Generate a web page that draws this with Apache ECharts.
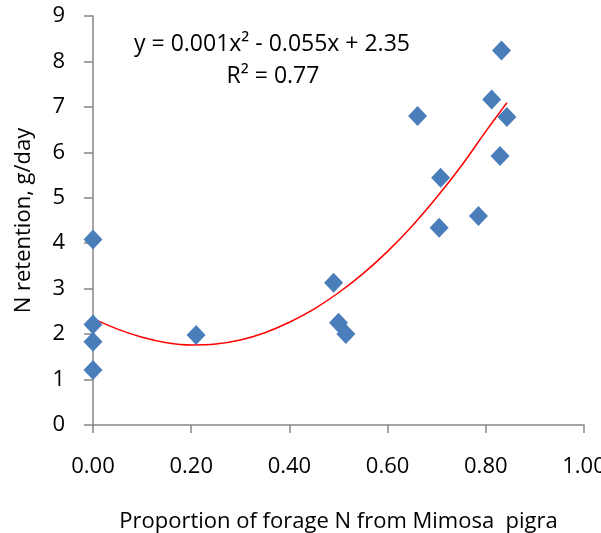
<!DOCTYPE html>
<html>
<head>
<meta charset="utf-8">
<script src="https://cdn.jsdelivr.net/npm/echarts@6/dist/echarts.min.js"></script>
<style>
  html, body { margin: 0; padding: 0; background: #fff; }
  #chart { width: 601px; height: 533px; }
</style>
</head>
<body>
<div id="chart"></div>
<script>
// observed points: proportion of forage N from Mimosa pigra vs N retention
const propN = [0.00, 0.00, 0.00, 0.00, 0.21, 0.49, 0.50, 0.515, 0.661, 0.705, 0.708, 0.785, 0.812, 0.829, 0.832, 0.843];
const retention = [4.08, 2.21, 1.83, 1.21, 1.98, 3.13, 2.25, 2.00, 6.80, 4.34, 5.44, 4.60, 7.16, 5.92, 8.24, 6.78];

// trend line
const trendX = [0.00, 0.05, 0.10, 0.15, 0.20, 0.25, 0.30, 0.35, 0.40, 0.45, 0.50, 0.55, 0.60, 0.65, 0.70, 0.75, 0.80, 0.843];
const trendY = [2.34, 2.11, 1.93, 1.81, 1.76, 1.78, 1.87, 2.03, 2.26, 2.55, 2.91, 3.33, 3.82, 4.38, 5.01, 5.70, 6.46, 7.09];

const eqText = 'y = 0.001x² - 0.055x + 2.35';
const r2Text = 'R² = 0.77';

const font = 'Open Sans';
const axisGray = '#868686';

const chart = echarts.init(document.getElementById('chart'));
chart.setOption({
  animation: false,
  grid: { left: 93, right: 17, top: 16, bottom: 108, outerBoundsMode: 'none', containLabel: false },
  xAxis: {
    type: 'value',
    min: 0, max: 1, interval: 0.2,
    name: 'Proportion of forage N from Mimosa  pigra',
    nameLocation: 'middle',
    nameGap: 86,
    nameTextStyle: { fontFamily: font, fontSize: 22, color: '#000' },
    axisLine: { lineStyle: { color: axisGray, width: 1.5 } },
    axisTick: { show: true, length: 8, lineStyle: { color: axisGray, width: 1.5 } },
    axisLabel: {
      margin: 31, fontFamily: font, fontSize: 22, color: '#000',
      showMaxLabel: true, showMinLabel: true,
      formatter: v => v.toFixed(2)
    },
    splitLine: { show: false }
  },
  yAxis: {
    type: 'value',
    min: 0, max: 9, interval: 1,
    name: 'N retention, g/day',
    nameLocation: 'middle',
    nameGap: 58,
    nameTextStyle: { fontFamily: font, fontSize: 22, color: '#000' },
    axisLine: { show: true, lineStyle: { color: axisGray, width: 1.5 } },
    axisTick: { show: true, length: 9, lineStyle: { color: axisGray, width: 1.5 } },
    axisLabel: { margin: 28, fontFamily: font, fontSize: 22, color: '#000' },
    splitLine: { show: false }
  },
  series: [
    {
      type: 'line',
      data: trendX.map((x, i) => [x, trendY[i]]),
      smooth: 0.3,
      showSymbol: false,
      lineStyle: { color: '#ff0000', width: 1.5 },
      z: 2
    },
    {
      type: 'scatter',
      data: propN.map((x, i) => [x, retention[i]]),
      symbol: 'diamond',
      symbolSize: [19, 20],
      itemStyle: { color: '#4a7ebb', opacity: 1 },
      z: 3
    }
  ],
  graphic: [
    {
      type: 'text',
      style: { text: eqText, x: 272, y: 44, textAlign: 'center', textVerticalAlign: 'middle',
               fontFamily: font, fontSize: 23, fill: '#000' }
    },
    {
      type: 'text',
      style: { text: r2Text, x: 273, y: 76, textAlign: 'center', textVerticalAlign: 'middle',
               fontFamily: font, fontSize: 23, fill: '#000' }
    }
  ]
});
</script>
</body>
</html>
